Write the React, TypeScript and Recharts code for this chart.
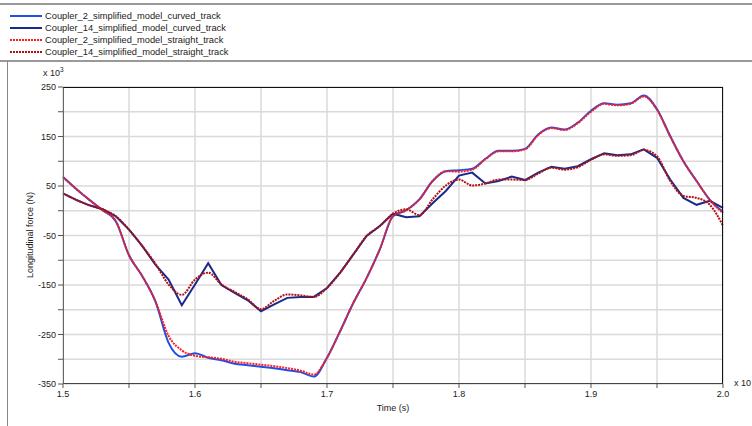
import React from "react";
import { LineChart, Line, XAxis, YAxis, CartesianGrid } from "recharts";

// time (s), shown as 1.5 ... 2.0 on the axis
const time = [
  1.5, 1.51, 1.52, 1.53, 1.54, 1.55, 1.56, 1.57, 1.58, 1.59,
  1.6, 1.61, 1.62, 1.63, 1.64, 1.65, 1.66, 1.67, 1.68, 1.69,
  1.7, 1.71, 1.72, 1.73, 1.74, 1.75, 1.76, 1.77, 1.78, 1.79,
  1.8, 1.81, 1.82, 1.83, 1.84, 1.85, 1.86, 1.87, 1.88, 1.89,
  1.9, 1.91, 1.92, 1.93, 1.94, 1.95, 1.96, 1.97, 1.98, 1.99,
  2.0,
];

// longitudinal force, x 10^3 N
const coupler2Curved = [
  68, 44, 22, 1, -21, -90, -132, -183, -267, -295,
  -288, -297, -302, -309, -312, -315, -318, -322, -326, -335,
  -297, -243, -186, -136, -78, -11, 1, 23, 60, 80,
  82, 85, 105, 121, 121, 125, 154, 168, 164, 178,
  202, 217, 214, 217, 233, 205, 151, 100, 60, 22,
  -2,
];
const coupler14Curved = [
  35, 22, 11, 3, -11, -38, -71, -109, -139, -191,
  -149, -106, -150, -166, -181, -203, -189, -176, -174, -174,
  -156, -125, -88, -51, -31, -6, -13, -11, 15, 40,
  71, 77, 55, 60, 69, 62, 77, 89, 85, 90,
  104, 116, 112, 114, 124, 107, 63, 26, 12, 20,
  6,
];
const coupler2Straight = [
  68, 44, 22, 1, -21, -90, -132, -183, -253, -282,
  -293, -296, -299, -305, -308, -311, -314, -318, -323, -331,
  -297, -243, -186, -136, -78, -11, 1, 23, 60, 80,
  79, 83, 104, 120, 120, 124, 153, 167, 163, 177,
  200, 216, 213, 216, 231, 204, 150, 100, 60, 22,
  -5,
];
const coupler14Straight = [
  35, 22, 11, 3, -11, -38, -71, -107, -149, -170,
  -139, -125, -149, -164, -179, -199, -182, -169, -171, -174,
  -156, -125, -88, -51, -31, -6, 3, -9, 23, 51,
  63, 51, 55, 63, 63, 62, 75, 87, 83, 88,
  103, 114, 111, 112, 123, 110, 60, 30, 26, 12,
  -30,
];

const seriesNames = [
  "Coupler_2_simplified_model_curved_track",
  "Coupler_14_simplified_model_curved_track",
  "Coupler_2_simplified_model_straight_track",
  "Coupler_14_simplified_model_straight_track",
];

const xTicks = [1.5, 1.55, 1.6, 1.65, 1.7, 1.75, 1.8, 1.85, 1.9, 1.95, 2.0];
const yTicks = [-350, -300, -250, -200, -150, -100, -50, 0, 50, 100, 150, 200, 250];

const data = time.map((t, i) => ({
  t,
  a: coupler2Curved[i],
  b: coupler14Curved[i],
  c: coupler2Straight[i],
  d: coupler14Straight[i],
}));

const font = "'Liberation Sans', Arial, sans-serif";
const colors = ["#1f4fe8", "#1a2a8c", "#ff1c1c", "#b01010"];
const dashes = [undefined, undefined, "2 1", "2 1"];

const YTick = (props: any) => {
  const { x, y, payload } = props;
  const v = payload.value;
  if (Math.abs(v % 100) !== 50) return <g />;
  return (
    <text x={x} y={y + 3} textAnchor="end" fontSize={9} fill="#222" fontFamily={font}>
      {v}
    </text>
  );
};

const XTick = (props: any) => {
  const { x, y, payload } = props;
  const v = payload.value;
  if (Math.abs(v * 10 - Math.round(v * 10)) > 1e-6) return <g />;
  return (
    <text x={x} y={y + 7} textAnchor="middle" fontSize={9} fill="#222" fontFamily={font}>
      {v.toFixed(1)}
    </text>
  );
};

export default function App() {
  return (
    <div
      style={{
        position: "absolute",
        left: 0,
        top: 0,
        width: 752,
        height: 426,
        background: "#fff",
        fontFamily: font,
        overflow: "hidden",
      }}
    >
      {/* frame lines */}
      <div style={{ position: "absolute", left: 0, top: 3, width: 752, height: 2, background: "#999" }} />
      <div style={{ position: "absolute", left: 0, top: 60, width: 752, height: 2, background: "#999" }} />
      <div style={{ position: "absolute", left: 7, top: 61, width: 1, height: 365, background: "#888" }} />

      {/* legend */}
      <div style={{ position: "absolute", left: 10, top: 10 }}>
        {seriesNames.map((name, i) => (
          <div key={name} style={{ display: "flex", alignItems: "center", height: 12 }}>
            <svg width={32} height={4} style={{ marginRight: 3 }}>
              <line
                x1={0}
                y1={2}
                x2={32}
                y2={2}
                stroke={colors[i]}
                strokeWidth={2}
                strokeDasharray={dashes[i]}
              />
            </svg>
            <span style={{ fontSize: 9.3, color: "#222", whiteSpace: "nowrap" }}>{name}</span>
          </div>
        ))}
      </div>

      <LineChart
        width={752}
        height={426}
        data={data}
        margin={{ top: 87, right: 29, left: 8, bottom: 0 }}
      >
        <CartesianGrid stroke="#dadada" strokeWidth={1.5} />
        <XAxis
          dataKey="t"
          type="number"
          domain={[1.5, 2.0]}
          ticks={xTicks}
          tick={<XTick />}
          tickSize={4}
          tickLine={{ stroke: "#555" }}
          axisLine={false}
          height={42}
          interval={0}
        />
        <YAxis
          type="number"
          domain={[-350, 250]}
          ticks={yTicks}
          tick={<YTick />}
          tickSize={5}
          tickLine={{ stroke: "#555" }}
          axisLine={false}
          width={55}
          interval={0}
        />
        <Line dataKey="a" type="monotone" stroke={colors[0]} strokeWidth={2} dot={false} isAnimationActive={false} />
        <Line dataKey="b" type="linear" stroke={colors[1]} strokeWidth={2} dot={false} isAnimationActive={false} />
        <Line
          dataKey="c"
          type="monotone"
          stroke={colors[2]}
          strokeWidth={2}
          strokeDasharray="2 1"
          dot={false}
          isAnimationActive={false}
        />
        <Line
          dataKey="d"
          type="monotone"
          stroke={colors[3]}
          strokeWidth={2}
          strokeDasharray="2 1"
          dot={false}
          isAnimationActive={false}
        />
      </LineChart>

      {/* plot box */}
      <div
        style={{
          position: "absolute",
          left: 63,
          top: 87,
          width: 660,
          height: 297,
          borderTop: "1.5px solid #111",
          borderRight: "1.5px solid #111",
          borderLeft: "1.5px solid #666",
          borderBottom: "1.5px solid #444",
          boxSizing: "border-box",
          pointerEvents: "none",
        }}
      />

      {/* axis labels and exponents */}
      <div style={{ position: "absolute", left: 43, top: 66, fontSize: 9, color: "#222" }}>
        x 10<sup style={{ fontSize: 6.5 }}>3</sup>
      </div>
      <div style={{ position: "absolute", left: 734, top: 378, fontSize: 9, color: "#222", whiteSpace: "nowrap" }}>
        x 10
      </div>
      <div
        style={{
          position: "absolute",
          left: 30,
          top: 235,
          fontSize: 9,
          color: "#222",
          whiteSpace: "nowrap",
          transform: "translate(-50%, -50%) rotate(-90deg)",
        }}
      >
        Longitudinal force (N)
      </div>
      <div
        style={{
          position: "absolute",
          left: 393,
          top: 408,
          fontSize: 9,
          color: "#222",
          whiteSpace: "nowrap",
          transform: "translate(-50%, -50%)",
        }}
      >
        Time (s)
      </div>
    </div>
  );
}
